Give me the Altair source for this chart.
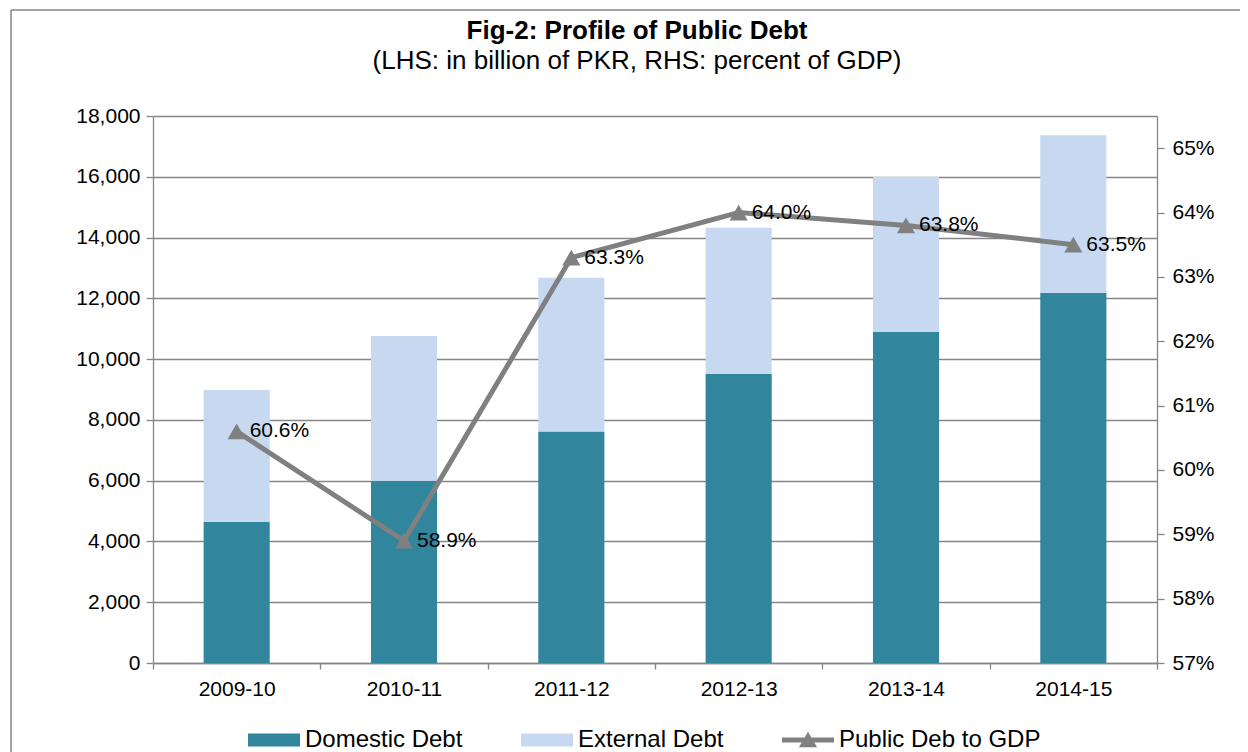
import altair as alt
import pandas as pd

years = ["2009-10", "2010-11", "2011-12", "2012-13", "2013-14", "2014-15"]
domestic = [4650, 6000, 7620, 9520, 10890, 12180]
external = [4330, 4760, 5060, 4800, 5100, 5190]
debt_gdp = [60.6, 58.9, 63.3, 64.0, 63.8, 63.5]
series = ["Domestic Debt", "External Debt", "Public Deb to GDP"]
colors = ["#31859C", "#C6D9F1", "#808080"]
legend_shapes = [
    "M-1,-0.25H1V0.25H-1Z",
    "M-1,-0.25H1V0.25H-1Z",
    "M-1,-0.1H1V0.1H-1Z M0,-0.32L0.35,0.28H-0.35Z",
]
left_ticks = list(range(0, 18001, 2000))
right_ticks = list(range(57, 66))
title_text = "Fig-2: Profile of Public Debt"
subtitle_text = "(LHS: in billion of PKR, RHS: percent of GDP)"

FONT = "Liberation Sans"
GRAY = "#868686"

bar_rows = []
for y, d, e in zip(years, domestic, external):
    bar_rows.append({"year": y, "series": series[0], "value": d, "ord": 0})
    bar_rows.append({"year": y, "series": series[1], "value": e, "ord": 1})
bars_df = pd.DataFrame(bar_rows)
line_df = pd.DataFrame({"year": years, "pct": debt_gdp})
legend_df = pd.DataFrame({"series": series})
one = pd.DataFrame({"a": [0]})

X = alt.X(
    "year:N",
    sort=years,
    scale=alt.Scale(paddingInner=0, paddingOuter=0),
    axis=alt.Axis(title=None, labelAngle=0, tickBand="extent", labelPadding=9, tickSize=6),
)

legend = alt.Legend(
    title=None,
    orient="none",
    legendX=95,
    legendY=598,
    direction="horizontal",
    columns=3,
    symbolSize=2704,
    symbolStrokeWidth=0,
    labelOffset=5,
    columnPadding=58,
    labelFontSize=24,
    labelFont=FONT,
    labelColor="black",
    labelLimit=500,
    symbolOpacity=1,
)
COLOR = alt.Color(
    "series:N",
    scale=alt.Scale(domain=series, range=colors),
    legend=legend,
)
SHAPE = alt.Shape(
    "series:N",
    scale=alt.Scale(domain=series, range=legend_shapes),
    legend=legend,
)

# chart frame (only top and left edges are inside the picture)
frame_top = alt.Chart(one).mark_rule(color=GRAY, strokeWidth=1.5).encode(
    x=alt.value(-142), x2=alt.value(1100), y=alt.value(-106)
)
frame_left = alt.Chart(one).mark_rule(color=GRAY, strokeWidth=1.5).encode(
    x=alt.value(-142), y=alt.value(-106), y2=alt.value(700)
)

title = alt.Chart(one).mark_text(
    text=title_text, font=FONT, fontSize=26, fontWeight="bold", color="black",
    align="center", baseline="alphabetic"
).encode(x=alt.value(484), y=alt.value(-77))
subtitle = alt.Chart(one).mark_text(
    text=subtitle_text, font=FONT, fontSize=26, color="black",
    align="center", baseline="alphabetic"
).encode(x=alt.value(484), y=alt.value(-47))

bars = alt.Chart(bars_df).mark_bar(width=alt.RelativeBandSize(0.395)).encode(
    x=X,
    y=alt.Y(
        "value:Q",
        stack="zero",
        scale=alt.Scale(domain=[0, 18000], nice=False),
        axis=alt.Axis(
            title=None,
            values=left_ticks,
            format=",d",
            grid=True,
            tickSize=7,
            labelPadding=6,
        ),
    ),
    color=COLOR,
    order=alt.Order("ord:Q"),
)

Y2 = alt.Y(
    "pct:Q",
    scale=alt.Scale(domain=[57, 65.5], nice=False, zero=False),
    axis=alt.Axis(
        orient="right",
        title=None,
        values=right_ticks,
        labelExpr="datum.value + '%'",
        grid=False,
        tickSize=7,
        labelPadding=8,
    ),
)

line = alt.Chart(line_df).mark_line(color="#808080", strokeWidth=5).encode(x=X, y=Y2)
tri = alt.Chart(line_df).mark_point(
    shape="triangle-up", filled=True, color="#808080", size=330, opacity=1
).encode(x=X, y=Y2)
labels = alt.Chart(line_df).transform_calculate(
    lab="format(datum.pct, '.1f') + '%'"
).mark_text(
    align="left", baseline="middle", dx=13, dy=0, fontSize=21, font=FONT, color="black"
).encode(x=X, y=Y2, text="lab:N")

legend_layer = alt.Chart(legend_df).mark_point(filled=True, size=100).encode(
    x=alt.value(-600), y=alt.value(-600), color=COLOR, shape=SHAPE
)

right = alt.layer(line, tri, labels, legend_layer)

chart = alt.layer(frame_top, frame_left, title, subtitle, bars, right).resolve_scale(
    y="independent"
).properties(
    width=1004,
    height=547,
    autosize=alt.AutoSizeParams(type="none"),
    padding={"left": 145, "top": 108, "right": 83, "bottom": 89},
).configure(font=FONT).configure_view(stroke=None).configure_axis(
    labelFont=FONT,
    labelFontSize=21,
    labelColor="black",
    domainColor=GRAY,
    domainWidth=1.3,
    tickColor=GRAY,
    tickWidth=1.3,
    gridColor=GRAY,
    gridWidth=1.3,
)

chart.save("out.html", embed_options={"renderer": "svg", "actions": False})
